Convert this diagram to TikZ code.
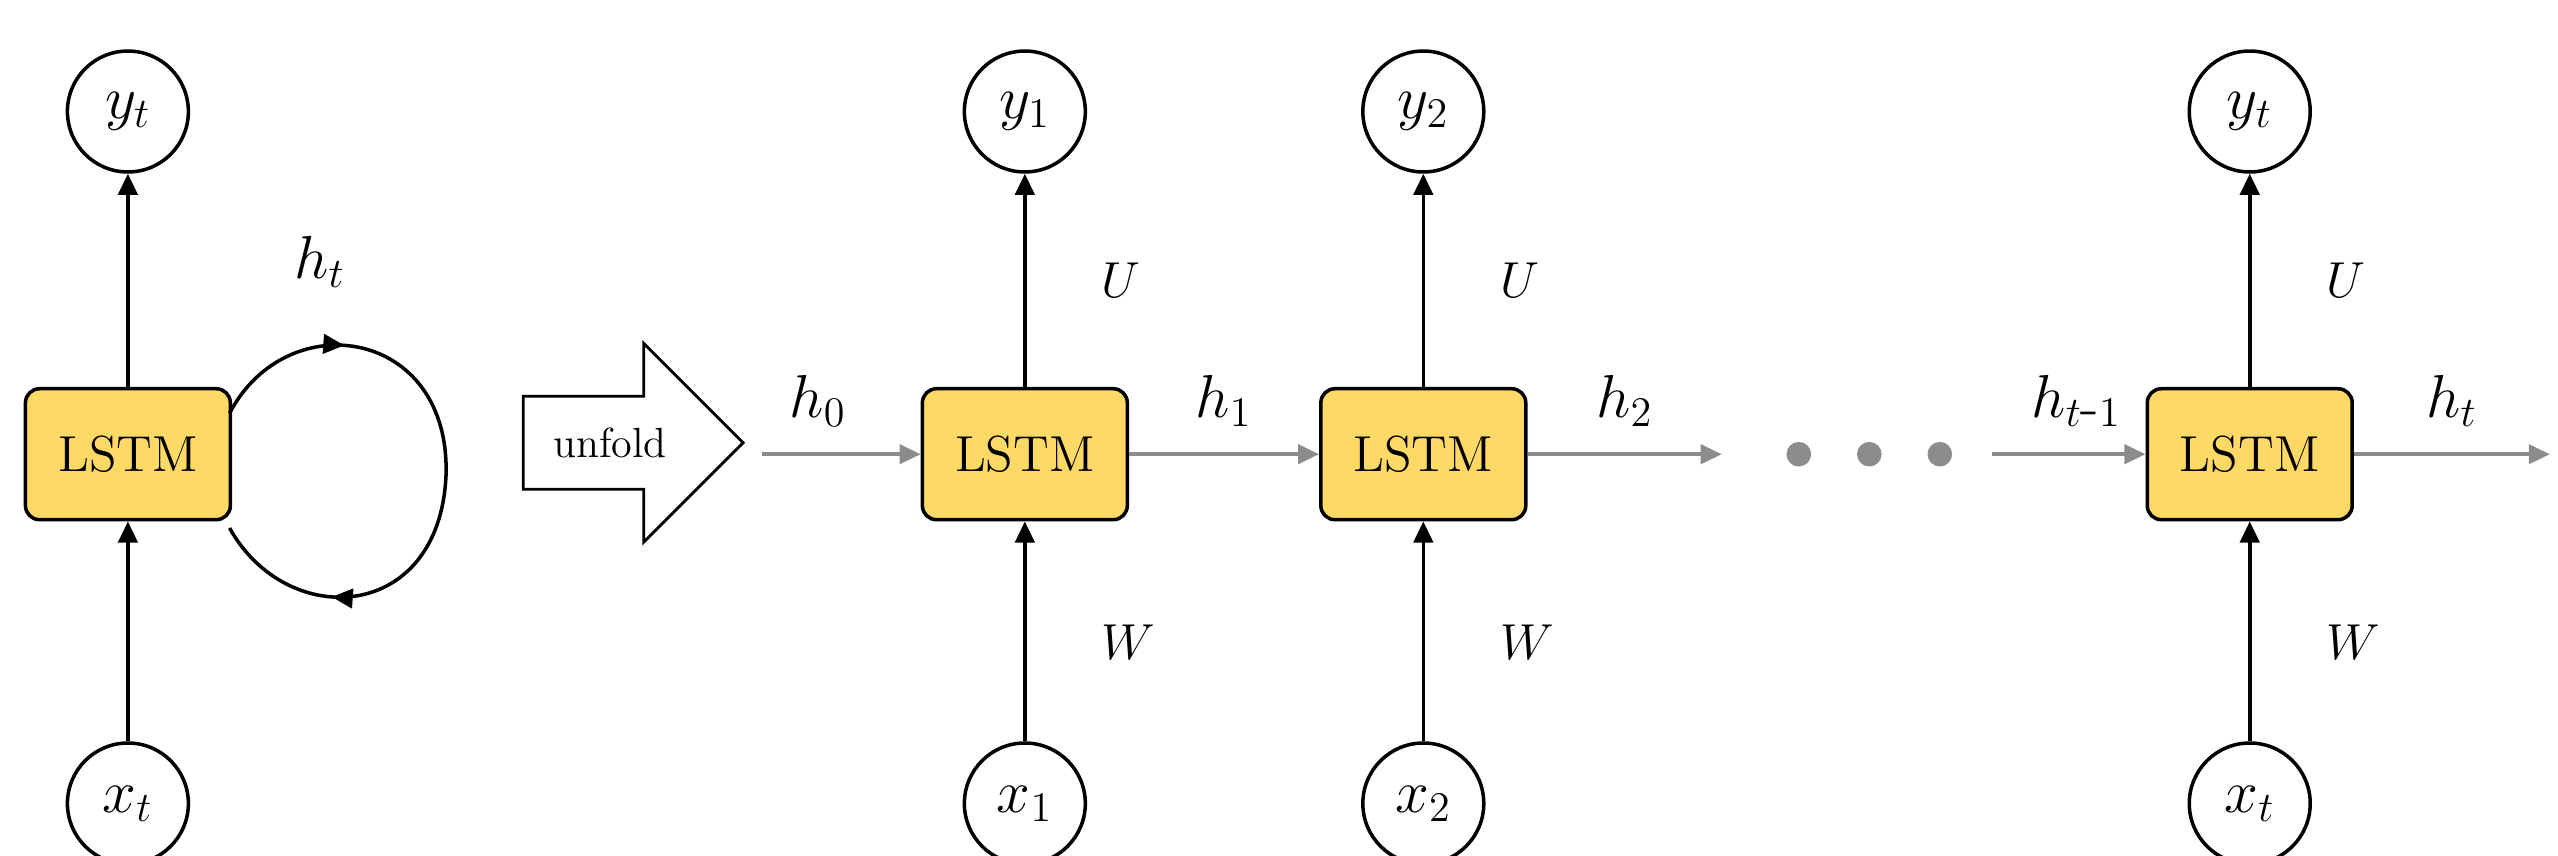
\documentclass[tikz,border=0pt]{standalone}
\usepackage{tikz}
\usetikzlibrary{positioning}
\usetikzlibrary{calc}
\usetikzlibrary{shapes.arrows}
\usetikzlibrary{arrows.meta}
\usetikzlibrary{decorations.markings}
\definecolor{cellfill}{HTML}{FFD966}
\tikzset{>={Triangle[length=6pt,width=5.5pt]}}
\tikzset{cell/.style={rectangle, rounded corners=4pt, draw, line width=1pt, fill=cellfill, minimum width=2.05cm, minimum height=1.31cm, font=\Large}}
\tikzset{io/.style={circle, draw, line width=1pt, minimum size=1.21cm, inner sep=0pt, font=\LARGE}}
\tikzset{wire/.style={->, line width=1pt}}
\tikzset{state/.style={->, line width=1pt, draw=gray!90}}
\tikzset{lbl/.style={font=\Large}}
\tikzset{hlbl/.style={font=\LARGE}}

\begin{document}
\begin{tikzpicture}[x=0.0164cm, y=-0.0164cm]
    \useasboundingbox (0,0) rectangle (1560,522);

    % The folded cell on the left.
    \node [cell] (c0) at (78,277) {LSTM};
    \node [io] (y0) at (78,68) {$y_t$};
    \node [io] (x0) at (78,490) {$x_t$};
    \draw [wire] (c0) -- (y0);
    \draw [wire] (x0) -- (c0);
    \coordinate (loopTop) at (140,252);
    \coordinate (loopBot) at (140,322);
    \draw [line width=1pt, decoration={markings, mark=at position 0.22 with {\arrow{>}},
        mark=at position 0.8 with {\arrow{>}}}, postaction={decorate}]
        (loopTop) .. controls (175,185) and (275,200) .. (272,290)
        .. controls (268,380) and (175,385) .. (loopBot);
    \node [hlbl] (hloop) at (195,160) {$h_t$};

    % The unfold arrow.
    \node [single arrow, draw, line width=0.8pt, minimum height=2.2cm,
        single arrow head extend=0.53cm, inner xsep=3pt, inner ysep=0.3cm, font=\large] (unfold) at (372,270) {unfold\hspace{0.3cm}};

    % The unrolled cells.
    \foreach \name/\xx/\yl/\xl in {c1/625/$y_1$/$x_1$, c2/868/$y_2$/$x_2$, ct/1372/$y_t$/$x_t$} {
        \node [cell] (\name) at (\xx,277) {LSTM};
        \node [io] (\name y) at (\xx,68) {\yl};
        \node [io] (\name x) at (\xx,490) {\xl};
        \draw [wire] (\name) -- node [lbl, right=18pt] {$U$} (\name y);
        \draw [wire] (\name x) -- node [lbl, right=18pt, pos=0.45] {$W$} (\name);
    }

    \coordinate (in1) at (465,277);
    \coordinate (out2) at (1050,277);
    \coordinate (int) at (1215,277);
    \coordinate (outt) at (1555,277);
    \draw [state] (in1) -- node [hlbl, above=4pt, pos=0.35] {$h_0$} (c1);
    \draw [state] (c1) -- node [hlbl, above=4pt] {$h_1$} (c2);
    \draw [state] (c2) -- node [hlbl, above=4pt] {$h_2$} (out2);
    \draw [state] (int) -- node [hlbl, above=4pt, pos=0.55] {$h_{t\mbox{-}1}$} (ct);
    \draw [state] (ct) -- node [hlbl, above=4pt] {$h_t$} (outt);

    \foreach \dx in {1097,1140,1183}
        \fill [gray!90] (\dx,277) circle (3.5pt);
\end{tikzpicture}
\end{document}
